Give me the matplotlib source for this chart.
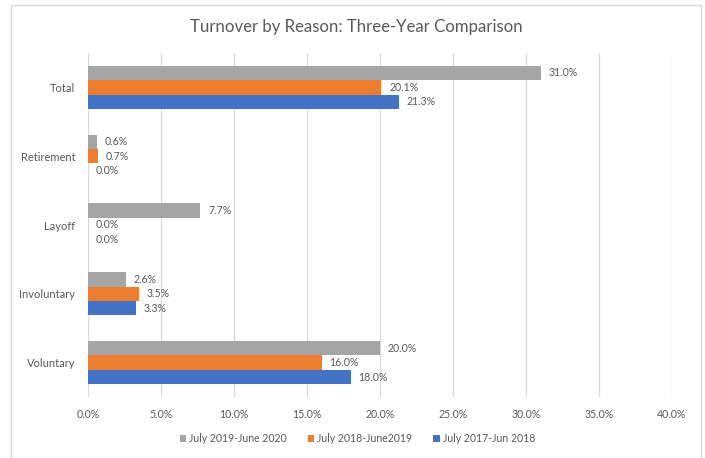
import matplotlib
matplotlib.use("Agg")
import matplotlib.pyplot as plt
from matplotlib.patches import Rectangle
import numpy as np

plt.rcParams['font.family'] = ['Lato', 'DejaVu Sans']

categories = ["Voluntary", "Involuntary", "Layoff", "Retirement", "Total"]
series_names = ["July 2019-June 2020", "July 2018-June2019", "July 2017-Jun 2018"]
values_2019_2020 = [20.0, 2.6, 7.7, 0.6, 31.0]
values_2018_2019 = [16.0, 3.5, 0.0, 0.7, 20.1]
values_2017_2018 = [18.0, 3.3, 0.0, 0.0, 21.3]
colors = ["#A5A5A5", "#ED7D31", "#4472C4"]
x_ticks = [0, 5, 10, 15, 20, 25, 30, 35, 40]

text_color = "#595959"
grid_color = "#D9D9D9"

fig = plt.figure(figsize=(7.05, 4.58), dpi=100)
fig.patch.set_facecolor("white")

# chart-area border
fig.patches.append(Rectangle((11 / 705, -0.05), 690 / 705, 1 - 5 / 458 + 0.05,
                             transform=fig.transFigure, fill=False,
                             edgecolor="#D9D9D9", linewidth=1.0))

ax = fig.add_axes([88 / 705, 1 - 397 / 458, (672 - 88) / 705, (397 - 53) / 458])

y = np.arange(len(categories))
h = 0.21
all_series = [values_2019_2020, values_2018_2019, values_2017_2018]
offsets = [h, 0.0, -h]

for vals, col, off, name in zip(all_series, colors, offsets, series_names):
    bars = ax.barh(y + off, vals, height=h, color=col, label=name, zorder=3)
    for b, v in zip(bars, vals):
        ax.annotate(f"{v:.1f}%", (v, b.get_y() + b.get_height() / 2),
                    xytext=(5.5, 0), textcoords="offset points",
                    ha="left", va="center", fontsize=7.6, color=text_color)

ax.set_xlim(0, 40)
ax.set_ylim(-0.5, len(categories) - 0.5)
ax.set_xticks(x_ticks)
ax.set_xticklabels([f"{t:.1f}%" for t in x_ticks])
ax.set_yticks(y)
ax.set_yticklabels(categories)
ax.grid(axis="x", color=grid_color, linewidth=0.9, zorder=0)
ax.tick_params(axis="both", length=0, labelsize=7.6, colors=text_color)
ax.tick_params(axis="x", pad=9)
ax.tick_params(axis="y", pad=9, labelsize=8)
for s in ax.spines.values():
    s.set_visible(False)

fig.text(0.506, 1 - 27 / 458, "Turnover by Reason: Three-Year Comparison",
         ha="center", va="center", fontsize=12.1, color=text_color)

handles, labels = ax.get_legend_handles_labels()
leg = fig.legend(handles, labels, loc="center", bbox_to_anchor=(0.507, 1 - 439 / 458),
                 ncol=3, frameon=False, fontsize=7.6, handlelength=0.6,
                 handleheight=0.6, handletextpad=0.3, columnspacing=2.0)
for t in leg.get_texts():
    t.set_color(text_color)

fig.savefig("out.png", dpi=100)
